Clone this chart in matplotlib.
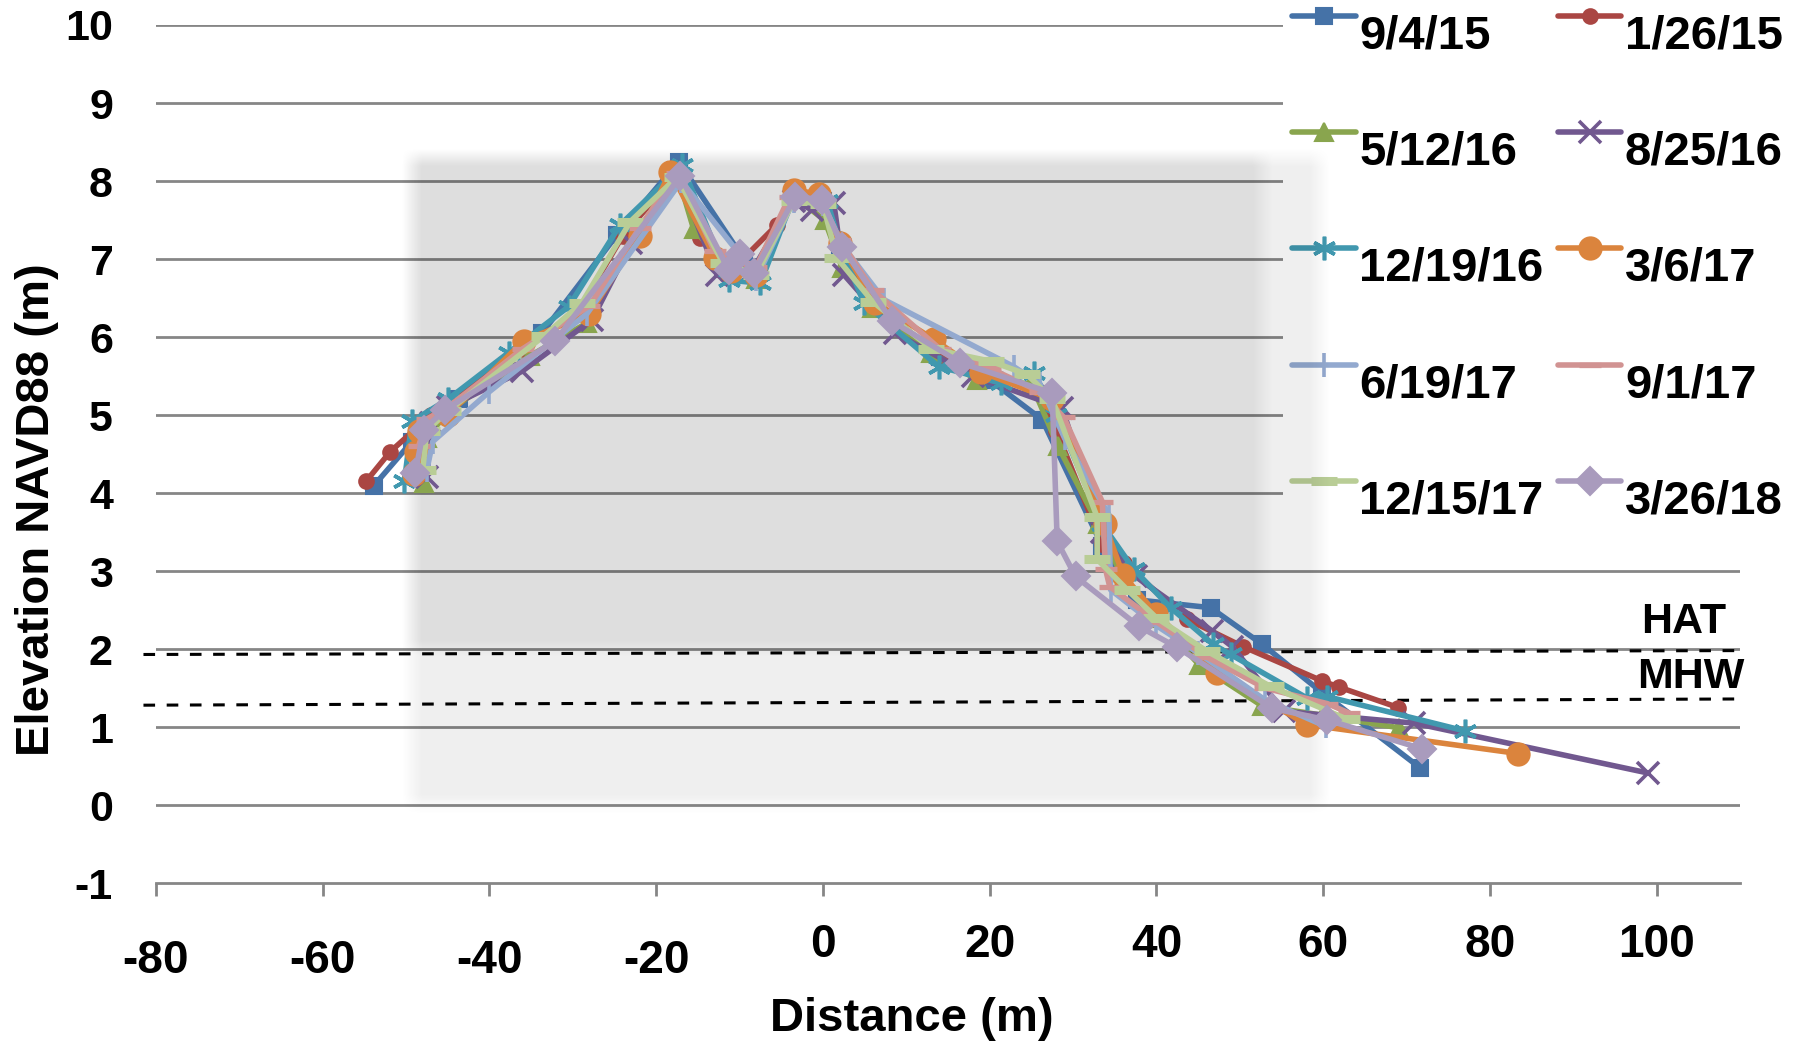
import numpy as np
import matplotlib
matplotlib.use('Agg')
import matplotlib.pyplot as plt
from matplotlib.transforms import ScaledTranslation

plt.rcParams['font.family'] = ['Liberation Sans', 'DejaVu Sans']
plt.rcParams['font.weight'] = 'bold'

labels = ['9/4/15', '1/26/15', '5/12/16', '8/25/16', '12/19/16',
          '3/6/17', '6/19/17', '9/1/17', '12/15/17', '3/26/18']

x_0904_15 = [-53.9, -49.3, -43.6, -33.7, -24.7, -17.3, -9.5, -8.0, -3.5, 0.0, 2.0, 6.0, 14.0, 20.0, 26.3, 33.5, 37.7, 46.5, 52.7, 59.9, 71.6]
y_0904_15 = [4.09, 4.66, 5.20, 6.05, 7.31, 8.25, 7.00, 6.80, 7.80, 7.75, 7.10, 6.45, 5.75, 5.45, 4.94, 3.32, 2.63, 2.53, 2.06, 1.44, 0.48]

x_0126_15 = [-54.8, -51.9, -47.0, -36.0, -29.5, -24.0, -17.5, -14.7, -11.0, -5.5, -3.5, 0.0, 2.0, 5.3, 14.0, 20.0, 26.0, 28.0, 33.5, 36.1, 43.7, 50.4, 59.9, 61.95, 69.0]
y_0126_15 = [4.15, 4.53, 5.00, 5.85, 6.30, 7.30, 8.10, 7.27, 6.85, 7.44, 7.80, 7.75, 7.15, 6.52, 5.75, 5.50, 5.30, 4.80, 3.34, 3.10, 2.38, 2.03, 1.59, 1.51, 1.25]

x_0512_16 = [-47.9, -47.5, -45.0, -35.1, -28.3, -22.5, -17.5, -15.5, -11.0, -8.0, -3.5, 0.2, 2.3, 5.9, 13.0, 18.5, 25.0, 28.2, 33.0, 36.0, 40.0, 45.1, 52.7, 60.0, 69.1]
y_0512_16 = [4.13, 4.70, 5.05, 5.76, 6.18, 7.30, 8.10, 7.38, 6.85, 6.75, 7.80, 7.50, 6.89, 6.37, 5.80, 5.45, 5.40, 4.60, 3.60, 2.90, 2.40, 1.80, 1.27, 1.15, 0.99]

x_0825_16 = [-47.5, -47.0, -45.0, -36.1, -27.7, -23.0, -17.5, -12.7, -8.5, -3.5, -1.3, 1.3, 2.5, 8.7, 18.0, 28.7, 33.5, 37.5, 46.7, 49.1, 55.3, 70.9, 99.0]
y_0825_16 = [4.20, 4.90, 5.10, 5.56, 6.22, 7.20, 8.10, 6.80, 6.85, 7.75, 7.63, 7.72, 6.80, 6.05, 5.50, 5.09, 3.50, 2.93, 2.23, 2.03, 1.20, 1.05, 0.41]

x_1219_16 = [-50.2, -49.3, -45.0, -37.7, -30.5, -24.3, -16.9, -11.3, -7.5, -3.5, 0.5, 2.0, 4.9, 13.9, 21.3, 25.3, 28.0, 33.5, 37.3, 41.7, 46.8, 48.9, 58.1, 60.5, 77.0]
y_1219_16 = [4.15, 4.92, 5.20, 5.80, 6.39, 7.44, 8.20, 6.73, 6.69, 7.80, 7.75, 7.20, 6.44, 5.62, 5.41, 5.54, 5.00, 3.60, 3.02, 2.53, 2.06, 1.93, 1.37, 1.39, 0.95]

x_0306_17 = [-49.1, -48.8, -48.5, -45.0, -35.9, -28.0, -22.0, -18.3, -12.9, -11.0, -8.0, -3.5, -0.5, 2.0, 6.3, 13.3, 19.0, 27.5, 33.8, 36.0, 40.0, 47.3, 58.1, 83.4]
y_0306_17 = [4.24, 4.52, 4.79, 5.00, 5.95, 6.30, 7.30, 8.12, 7.01, 6.85, 6.80, 7.89, 7.83, 7.20, 6.44, 5.97, 5.55, 5.20, 3.60, 2.95, 2.45, 1.69, 1.03, 0.66]

x_0619_17 = [-47.5, -46.8, -40.0, -28.3, -17.0, -9.9, -8.0, -3.5, 0.0, 2.5, 7.3, 22.9, 26.0, 29.0, 34.3, 34.5, 40.0, 45.0, 53.0, 60.3]
y_0619_17 = [4.30, 4.66, 5.30, 6.30, 8.00, 7.05, 6.75, 7.75, 7.70, 7.15, 6.48, 5.62, 5.40, 4.70, 3.72, 2.76, 2.30, 1.95, 1.35, 1.01]

x_0901_17 = [-48.5, -47.5, -45.0, -36.0, -28.0, -22.0, -17.5, -13.0, -10.0, -8.0, -4.0, 0.0, 2.0, 6.0, 14.0, 20.0, 26.0, 28.9, 33.5, 33.9, 34.4, 40.0, 46.0, 53.0, 60.5, 63.1]
y_0901_17 = [4.60, 4.95, 5.10, 5.85, 6.40, 7.40, 8.10, 7.10, 6.95, 6.90, 7.80, 7.70, 7.25, 6.60, 5.85, 5.60, 5.30, 4.97, 3.89, 3.02, 2.80, 2.35, 1.90, 1.50, 1.30, 1.18]

x_1215_17 = [-48.0, -47.5, -45.0, -33.5, -28.9, -23.1, -17.5, -12.0, -8.0, -3.5, 0.0, 1.7, 6.0, 13.0, 20.1, 24.5, 27.5, 32.9, 32.9, 36.5, 40.0, 46.1, 53.7, 62.9]
y_1215_17 = [4.30, 4.80, 5.05, 6.01, 6.44, 7.48, 8.05, 6.95, 6.80, 7.75, 7.70, 7.01, 6.45, 5.85, 5.69, 5.52, 5.20, 3.69, 3.15, 2.76, 2.40, 1.97, 1.52, 1.10]

x_0326_18 = [-48.9, -47.9, -45.3, -32.1, -17.1, -11.3, -9.9, -8.3, -3.3, -0.1, 2.3, 8.3, 16.5, 27.5, 28.1, 30.3, 37.9, 42.5, 53.9, 60.5, 71.9]
y_0326_18 = [4.26, 4.81, 5.07, 5.95, 8.06, 6.86, 7.06, 6.82, 7.80, 7.76, 7.16, 6.20, 5.67, 5.28, 3.38, 2.93, 2.29, 2.02, 1.24, 1.09, 0.72]

hat_x = [-81.5, 110.5]
hat_y = [1.93, 1.98]
mhw_x = [-81.5, 110.5]
mhw_y = [1.28, 1.36]

xticks = [-80, -60, -40, -20, 0, 20, 40, 60, 80, 100]
yticks = [-1, 0, 1, 2, 3, 4, 5, 6, 7, 8, 9, 10]

series_x = [x_0904_15, x_0126_15, x_0512_16, x_0825_16, x_1219_16,
            x_0306_17, x_0619_17, x_0901_17, x_1215_17, x_0326_18]
series_y = [y_0904_15, y_0126_15, y_0512_16, y_0825_16, y_1219_16,
            y_0306_17, y_0619_17, y_0901_17, y_1215_17, y_0326_18]

colors = ['#4572A7', '#AA4643', '#89A54E', '#71588F', '#4198AF',
          '#DB843D', '#93A9CF', '#D19392', '#B9CD96', '#A99BBD']
markers = ['s', 'o', '^', 'x', (6, 2, 0), 'o', '|', '_', '_', 'D']
msizes = [11.5, 10.5, 13, 16, 17, 16, 17, 16, 19, 14]
mews = [1.5, 1.5, 1.5, 2.6, 2.6, 1.5, 2.6, 3.8, 6.5, 1.5]

fig = plt.figure(figsize=(17.99, 10.46), dpi=100)
ax = fig.add_axes([0.0867, 0.1558, 0.8805, 0.8203])

grid_c = '#868686'
for yv in yticks[1:]:
    ax.axhline(yv, color=grid_c, lw=2.0, zorder=0.5)

lines = []
for xs, ys, lab, c, m, ms, mew in zip(series_x, series_y, labels, colors, markers, msizes, mews):
    ln, = ax.plot(xs, ys, color=c, lw=4.0, marker=m, markersize=ms,
                  markeredgewidth=mew, markeredgecolor=c, markerfacecolor=c,
                  label=lab, zorder=2, solid_capstyle='round', solid_joinstyle='round')
    lines.append(ln)

ax.plot(hat_x, hat_y, color='black', lw=2.2, ls=(0, (3.8, 3.8)), zorder=1.5, clip_on=False)
ax.plot(mhw_x, mhw_y, color='black', lw=2.2, ls=(0, (3.8, 3.8)), zorder=1.5, clip_on=False)
ax.text(108.3, 2.2, 'HAT', fontsize=31, fontweight='bold', ha='right', va='baseline')
ax.text(110.6, 1.5, 'MHW', fontsize=31, fontweight='bold', ha='right', va='baseline')

# soft-edged gray overlay
gx = np.linspace(-80, 110, 950)
gy = np.linspace(-1, 10, 550)
GX, GY = np.meshgrid(gx, gy)


def soft(v, a, b, w):
    return np.clip((v - a) / w + 0.5, 0, 1) * np.clip((b - v) / w + 0.5, 0, 1)


outer = soft(GX, -49.4, 59.6, 2.4) * soft(GY, 0.0, 8.3, 0.25)
inner = soft(GX, -49.4, 52.7, 2.4) * soft(GY, 2.0, 8.3, 0.2)
rgba = np.zeros(GX.shape + (4,))
rgba[..., 3] = 0.065 * outer + 0.068 * inner
ax.imshow(rgba, extent=[-80, 110, -1, 10], origin='lower', aspect='auto',
          interpolation='bilinear', zorder=0.8)

ax.set_xlim(-80, 110)
ax.set_ylim(-1, 10)

for s in ['top', 'right', 'left']:
    ax.spines[s].set_visible(False)
ax.spines['bottom'].set_color(grid_c)
ax.spines['bottom'].set_linewidth(2.0)

ax.set_xticks(xticks)
ax.set_xticklabels([str(v) for v in xticks], fontsize=33, fontweight='bold')
ax.set_yticks(yticks)
ax.set_yticklabels([str(v) for v in yticks], fontsize=31, fontweight='bold')
ax.tick_params(axis='x', direction='out', length=9, width=2.0, color=grid_c, pad=20)
ax.tick_params(axis='y', length=0, pad=31)
for t, v in zip(ax.xaxis.get_major_ticks(), xticks):
    if v < 0:
        t.set_pad(31)

ax.set_xlabel('Distance (m)', fontsize=34, fontweight='bold')
ax.xaxis.set_label_coords(0.477, -0.158)
ax.xaxis.label.set_va('center')
ax.set_ylabel('Elevation NAVD88 (m)', fontsize=34, fontweight='bold')
ax.yaxis.set_label_coords(-0.075, 0.435)
ax.yaxis.label.set_va('center')

order = [0, 2, 4, 6, 8, 1, 3, 5, 7, 9]
leg = ax.legend([lines[i] for i in order], [labels[i] for i in order],
                loc='upper left', bbox_to_anchor=(1283 / 1799, 1.0 + 11 / 1046),
                bbox_transform=fig.transFigure, ncol=2,
                prop={'size': 34, 'weight': 'bold'},
                frameon=True, facecolor='white', edgecolor='none', framealpha=1,
                fancybox=False, borderpad=0.2, labelspacing=1.53,
                handlelength=1.34, handletextpad=0.08, columnspacing=0.3,
                borderaxespad=0)
leg.set_zorder(0.6)
# legend text sits below the sample line
shift = ScaledTranslation(0, -16 / 100, fig.dpi_scale_trans)
for t in leg.get_texts():
    t.set_transform(t.get_transform() + shift)

fig.savefig('out.png', dpi=100)
plt.close(fig)
